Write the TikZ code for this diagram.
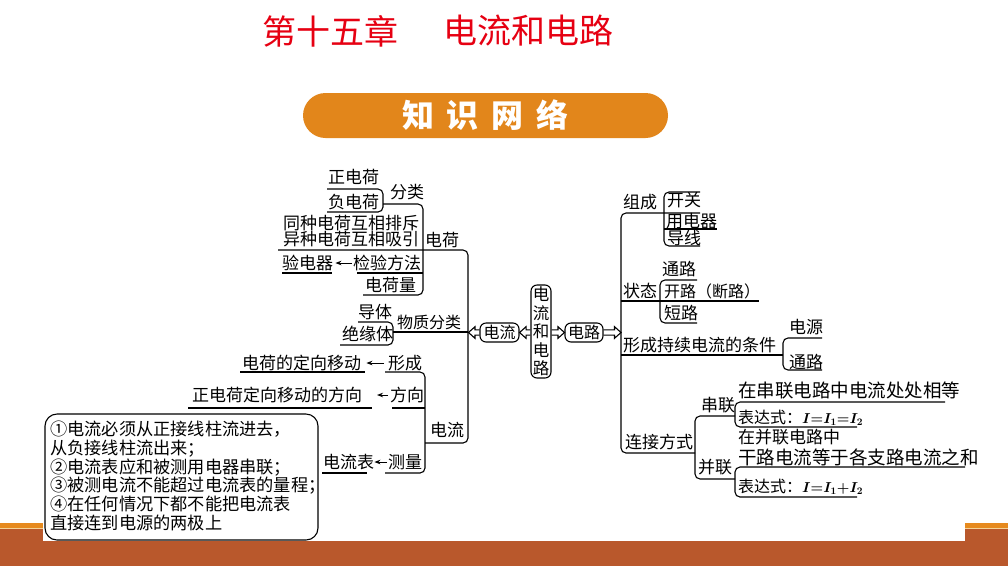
\documentclass[tikz,border=0pt]{standalone}
\usepackage{fontspec}
\setmainfont{Noto Sans CJK SC}
\usetikzlibrary{arrows.meta,calc}
\definecolor{titlered}{RGB}{230,0,18}
\definecolor{pillorange}{RGB}{226,134,27}
\definecolor{stripeorange}{RGB}{230,138,30}
\definecolor{stripepale}{RGB}{245,210,150}
\definecolor{bandbrown}{RGB}{185,88,44}
\tikzset{
  txt/.style={anchor=west,inner sep=0pt,font=\fontsize{17}{18}\selectfont},
  stxt/.style={anchor=west,inner sep=0pt,font=\fontsize{16}{18}\selectfont},
  wtxt/.style={anchor=west,inner sep=0pt,font=\fontsize{18.5}{20}\selectfont},
  bline/.style={line width=1.1pt,rounded corners=5pt},
  sarrow/.style={line width=1pt,-{Stealth[length=6pt,width=4.5pt]}},
  harrow/.style={line width=1.1pt,line join=miter},
  cbox/.style={draw,line width=1.1pt,rounded corners=6pt,inner sep=0pt},
}
\newcommand\hollowarr[3]{\draw[harrow] ($(#1)+(0,-2.6)$) -- ($(#2)+(#3,-2.6)$) -- ($(#2)+(#3,-5.8)$) -- (#2) -- ($(#2)+(#3,5.8)$) -- ($(#2)+(#3,2.6)$) -- ($(#1)+(0,2.6)$);}
\newcommand\formula[1]{{\fontsize{14}{16}\selectfont\boldmath$#1$}}
\begin{document}
\begin{tikzpicture}[x=1pt,y=-1pt]
\useasboundingbox (0,0) rectangle (1008,566);
% background bands
\fill[stripeorange] (0,523) rectangle (1008,527.5);
\fill[stripepale] (0,527.5) rectangle (1008,528.5);
\fill[bandbrown] (0,528.5) rectangle (1008,566);
\fill[white] (43,150) rectangle (965,541);
% title
\node[anchor=west,inner sep=0pt,text=titlered,font=\fontsize{34}{36}\selectfont] (title1) at (262,31) {第十五章};
\node[anchor=west,inner sep=0pt,text=titlered,font=\fontsize{34}{36}\selectfont] (title2) at (443,31) {电流和电路};
\node[fill=pillorange,rounded corners=22.5pt,minimum width=365pt,minimum height=45pt,inner sep=0pt,text=white,font=\bfseries\fontsize{32}{34}\selectfont] (pill) at (485.5,115.5) {知\hspace{13pt}识\hspace{13pt}网\hspace{13pt}络};

% ---------- centre ----------
\node[cbox,minimum width=20pt,minimum height=93pt,align=center,font=\fontsize{16.5}{18.6}\selectfont] (centre) at (541,331.5) {电\\流\\和\\电\\路};
\node[cbox,minimum width=39pt,minimum height=19pt,font=\fontsize{16}{18}\selectfont] (dl) at (499.5,332.5) {电流};
\node[cbox,minimum width=38pt,minimum height=19pt,font=\fontsize{16}{18}\selectfont] (dr) at (584,332.5) {电路};
\coordinate (LT) at (468.5,332.5);
\coordinate (RT) at (621,332.5);
\coordinate (cw) at (centre.west |- dl.east);
\coordinate (ce) at (centre.east |- dr.west);
\hollowarr{dl.west}{LT}{6.5}
\hollowarr{cw}{dl.east}{6.5}
\hollowarr{ce}{dr.west}{-6.5}
\hollowarr{dr.east}{RT}{-6.5}

% ---------- left: charge ----------
\node[txt] (zdh) at (328,177) {正电荷};
\node[txt] (fdh) at (328,202) {负电荷};
\node[txt] (fl) at (390,192) {分类};
\node[txt] (tz) at (283,223) {同种电荷互相排斥};
\node[txt] (yz) at (283,239) {异种电荷互相吸引};
\node[txt] (dh) at (425,240) {电荷};
\node[txt] (ydq) at (282,263) {验电器};
\node[txt] (jyff) at (353,263) {检验方法};
\node[txt] (dhl) at (365,285) {电荷量};
\draw[bline] (327,189) -- (383,189) -- (383,212) -- (327,212);
\draw[bline] (383,204) -- (423,204) -- (423,295) -- (363,295);
\draw[bline] (357,273) -- (423,273);
\draw[bline] (282,273) -- (332,273);
\draw[sarrow,shorten <=1pt,shorten >=2pt] (jyff.west) -- (ydq.east);
% trunk
\draw[bline] (278,250) -- (468,250) -- (468,443) -- (425,443);
% material
\node[txt] (dt) at (358,312) {导体};
\node[txt] (jyt) at (342,334) {绝缘体};
\node[stxt] (wzfl) at (397,322) {物质分类};
\draw[bline] (358,322) -- (393,322) -- (393,345) -- (340,345);
\draw[bline] (393,332) -- (468,332);
% current
\node[txt] (dhdx) at (242,363) {电荷的定向移动};
\node[txt] (xc) at (388,363) {形成};
\node[txt] (zdhfx) at (192,395) {正电荷定向移动的方向};
\node[txt] (fx) at (390,395) {方向};
\node[txt] (dlb) at (430,430) {电流};
\node[txt] (cl) at (388,462) {测量};
\node[txt] (dlbiao) at (323,462) {电流表};
\draw[bline] (240,372) -- (365,372);
\draw[bline] (385,372) -- (425,372) -- (425,473) -- (385,473);
\draw[bline] (188,408) -- (372,408);
\draw[bline] (392,408) -- (425,408);
\draw[bline] (322,473) -- (367,473);
\draw[sarrow,shorten <=4pt,shorten >=5pt] (xc.west) -- (dhdx.east);
\draw[sarrow,shorten <=2pt] (fx.west) -- ++(-13,0) coordinate (fxend);
\draw[sarrow,shorten <=1pt] (cl.west) -- (dlbiao.east);
% rules box
\node[draw,line width=1.1pt,rounded corners=12pt,minimum width=273pt,minimum height=126pt,inner sep=0pt] (rulebox) at (181.5,477) {};
\node[anchor=north west,inner sep=0pt,align=left,font=\fontsize{17.2}{18.7}\selectfont] (rules) at (50,421) {①电流必须从正接线柱流进去，\\从负接线柱流出来；\\②电流表应和被测用电器串联；\\③被测电流不能超过电流表的量程；\\④在任何情况下都不能把电流表\\直接连到电源的两极上};

% ---------- right: circuit ----------
\node[txt] (zc) at (623,202) {组成};
\node[txt] (kg) at (667,200) {开关};
\node[txt] (yqd) at (666,221) {用电器};
\node[txt] (dx) at (667,238) {导线};
\draw[bline] (700,213) -- (621,213) -- (621,453) -- (695,453);
\draw[bline] (700,192) -- (664,192) -- (664,246) -- (700,246);
\draw[bline] (664,229) -- (717,229);
\node[txt] (tl1) at (662,269) {通路};
\node[txt] (zt) at (623,291) {状态};
\node[stxt] (kl) at (664,291) {开路（断路）};
\node[txt] (dlu) at (664,313) {短路};
\draw[bline] (621,301) -- (759,301);
\draw[bline] (697,280) -- (660,280) -- (660,323) -- (697,323);
\node[txt] (tj) at (623,345) {形成持续电流的条件};
\node[txt] (dy) at (789,327) {电源};
\node[txt] (tl2) at (789,362) {通路};
\draw[bline] (621,355) -- (783,355);
\draw[bline] (822,338) -- (783,338) -- (783,370) -- (822,370);
\node[txt] (ljfs) at (625,442) {连接方式};
\node[txt] (cls) at (701,405) {串联};
\node[txt] (bls) at (698,467) {并联};
\draw[bline] (735,416) -- (695,416) -- (695,479) -- (735,479);
\node[wtxt] (cl1) at (738,390) {在串联电路中电流处处相等};
\node[stxt] (cl2) at (738,418) {表达式：\formula{I{=}I_{1}{=}I_{2}}};
\node[txt] (bl1) at (738,437) {在并联电路中};
\node[wtxt] (bl2) at (738,457) {干路电流等于各支路电流之和};
\node[stxt] (bl3) at (738,487) {表达式：\formula{I{=}I_{1}{+}I_{2}}};
\draw[bline] (945,402) -- (735,402) -- (735,427) -- (857,427);
\draw[bline] (965,467) -- (735,467) -- (735,497) -- (857,497);
\end{tikzpicture}
\end{document}
